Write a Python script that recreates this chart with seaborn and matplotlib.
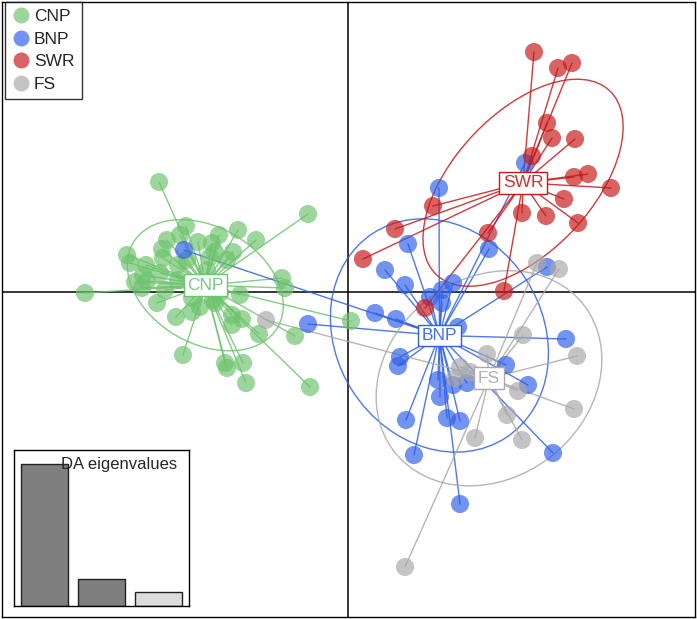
import numpy as np
import pandas as pd
import seaborn as sns
import matplotlib.pyplot as plt
from matplotlib.patches import Ellipse
from matplotlib.lines import Line2D

sns.set_style('white')
plt.rcParams['font.family'] = ['Liberation Sans', 'DejaVu Sans']

# discriminant function scores (LD1, LD2) per population
cnp_ld1 = [-3.78, -0.80, -3.24, -2.20, -2.58, -1.84, -3.62, -3.36, -3.00, -3.72,
           -4.42, -4.36, -2.66, -2.30, -2.72, -4.04, -3.40, -4.10, -3.76, -4.02,
           -3.40, -4.12, -3.66, -5.26, -1.32, -1.26, -2.16, -3.82, -3.12, -2.70,
           -3.12, -2.66, -3.44, -2.32, -2.12, -2.32, -1.78, -1.06, 0.06, -3.30,
           -2.46, -2.42, -2.10, -2.04, -0.76, -2.76, -2.42, -3.22, -3.70, -2.82,
           -2.56, -2.96, -4.26]
cnp_ld2 = [2.20, 1.56, 1.32, 1.24, 1.14, 1.04, 1.04, 1.14, 1.00, 0.86,
           0.74, 0.58, 0.80, 0.80, 0.98, 0.54, 0.54, 0.34, 0.38, 0.22,
           0.24, 0.08, 0.04, -0.02, 0.28, 0.08, -0.06, -0.22, -0.12, -0.16,
           -0.40, -0.22, -0.50, -0.46, -0.54, -0.66, -0.84, -0.88, -0.58, -1.26,
           -1.42, -1.52, -1.42, -1.82, -1.90, 0.70, 0.64, 0.64, 0.68, 0.44,
           -0.02, -0.30, 0.20]

bnp_ld1 = [1.20, 0.74, 1.14, 2.82, 3.98, 1.64, 1.88, 2.10, 1.88, 0.54,
           0.96, 2.20, 4.36, 1.04, 1.00, 3.16, 1.80, 2.10, 2.38, 1.84,
           3.60, 1.16, 1.98, 2.24, 1.32, 4.10, 2.24, -0.80, -3.28, 1.82, 3.54]
bnp_ld2 = [0.96, 0.44, 0.14, 0.86, 0.50, -0.10, 0.04, 0.18, -0.22, -0.42,
           -0.54, -0.70, -0.94, -1.30, -1.48, -1.46, -1.76, -1.86, -1.82, -2.10,
           -1.86, -2.56, -2.52, -2.58, -3.26, -3.22, -4.24, -0.64, 0.84, 2.08, 2.58]

fs_ld1 = [3.78, 4.22, 3.50, 2.78, 4.58, 2.24, 2.14, 3.40, 3.18, 4.52,
          2.54, 3.48, 1.14, -1.64, 2.44]
fs_ld2 = [0.58, 0.46, -0.86, -1.24, -1.28, -1.50, -1.72, -1.98, -2.46, -2.34,
          -2.92, -2.96, -5.50, -0.56, -1.60]

swr_ld1 = [3.72, 4.20, 4.48, 3.98, 4.08, 4.54, 3.68, 4.52, 4.80, 5.26,
           4.32, 3.96, 3.48, 4.60, 1.70, 0.94, 0.30, 1.54, 2.80, 3.12]
swr_ld2 = [4.80, 4.48, 4.58, 3.38, 3.08, 3.06, 2.72, 2.30, 2.36, 2.08,
           1.86, 1.52, 1.58, 1.38, 1.72, 1.26, 0.66, -0.32, 1.18, 0.02]

eig_values = [9.5, 1.8, 0.97]

groups = ['CNP', 'BNP', 'SWR', 'FS']
colors = {'CNP': '#6ec36e', 'BNP': '#2f60e8', 'SWR': '#c81818', 'FS': '#a9a9a9'}
alpha = 0.68

scores = {'CNP': (cnp_ld1, cnp_ld2), 'BNP': (bnp_ld1, bnp_ld2),
          'FS': (fs_ld1, fs_ld2), 'SWR': (swr_ld1, swr_ld2)}
draw_order = ['CNP', 'BNP', 'FS', 'SWR']

df = pd.concat([pd.DataFrame({'LD1': scores[g][0], 'LD2': scores[g][1], 'pop': g})
                for g in draw_order], ignore_index=True)

fig = plt.figure(figsize=(6.97, 6.19), dpi=100)
ax = fig.add_axes([2/697, 2/619, 693/697, 615/619])
ax.set_xlim(-6.92, 6.94)
ax.set_ylim(-6.5, 5.8)

ax.axhline(0, color='black', lw=1.1, zorder=0.5)
ax.axvline(0, color='black', lw=1.1, zorder=0.5)

# stars and ellipses
centres = {}
for g in draw_order:
    sub = df[df['pop'] == g]
    cx, cy = sub['LD1'].mean(), sub['LD2'].mean()
    centres[g] = (cx, cy)
    for x, y in zip(sub['LD1'], sub['LD2']):
        ax.plot([cx, x], [cy, y], color=colors[g], alpha=0.85, lw=1, zorder=1)
    cov = np.cov(sub['LD1'], sub['LD2'], ddof=0)
    vals, vecs = np.linalg.eigh(cov)
    ang = np.degrees(np.arctan2(vecs[1, 1], vecs[0, 1]))
    ax.add_patch(Ellipse((cx, cy), 2 * 1.5 * np.sqrt(vals[1]), 2 * 1.5 * np.sqrt(vals[0]),
                         angle=ang, fill=False, ec=colors[g], alpha=0.85, lw=1, zorder=1))

sns.scatterplot(data=df, x='LD1', y='LD2', hue='pop', palette=colors, s=170,
                alpha=alpha, linewidth=0, legend=False, ax=ax, zorder=2)

for g in draw_order:
    cx, cy = centres[g]
    ax.text(cx, cy, g, ha='center', va='center', fontsize=12.5, color=colors[g],
            alpha=0.9, zorder=3,
            bbox=dict(boxstyle='square,pad=0.2', fc='white', ec=colors[g], lw=1))

ax.set_xticks([])
ax.set_yticks([])
ax.set_xlabel('')
ax.set_ylabel('')
for sp in ax.spines.values():
    sp.set_color('black')
    sp.set_linewidth(1)

handles = [Line2D([], [], marker='o', ls='', markersize=11.5, color=colors[g], alpha=alpha,
                  markeredgewidth=0) for g in groups]
leg = ax.legend(handles, groups, loc='upper left', fontsize=12.5, frameon=True,
                borderaxespad=0.0, handletextpad=0.25, labelspacing=0.42,
                borderpad=0.42, handlelength=1.0, fancybox=False, bbox_to_anchor=(0.004, 1.0))
leg.get_frame().set_edgecolor('black')
leg.get_frame().set_linewidth(1)

# eigenvalue inset
ins = fig.add_axes([14/697, 13/619, 175/697, 156/619])
eig_df = pd.DataFrame({'axis': ['1', '2', '3'], 'eig': eig_values})
sns.barplot(data=eig_df, x='axis', y='eig', hue='axis',
            palette=['#7f7f7f', '#7f7f7f', '#dcdcdc'], edgecolor='#222222', linewidth=1,
            width=0.82, legend=False, ax=ins)
ins.set_xlim(-0.535, 2.526)
ins.set_ylim(0, eig_values[0] * 1.099)
ins.set_xticks([])
ins.set_yticks([])
ins.set_xlabel('')
ins.set_ylabel('')
for sp in ins.spines.values():
    sp.set_color('black')
    sp.set_linewidth(1)
ins.text(0.93, 0.955, 'DA eigenvalues', transform=ins.transAxes, ha='right', va='top',
         fontsize=12, zorder=5)

fig.savefig('out.png', dpi=100)
